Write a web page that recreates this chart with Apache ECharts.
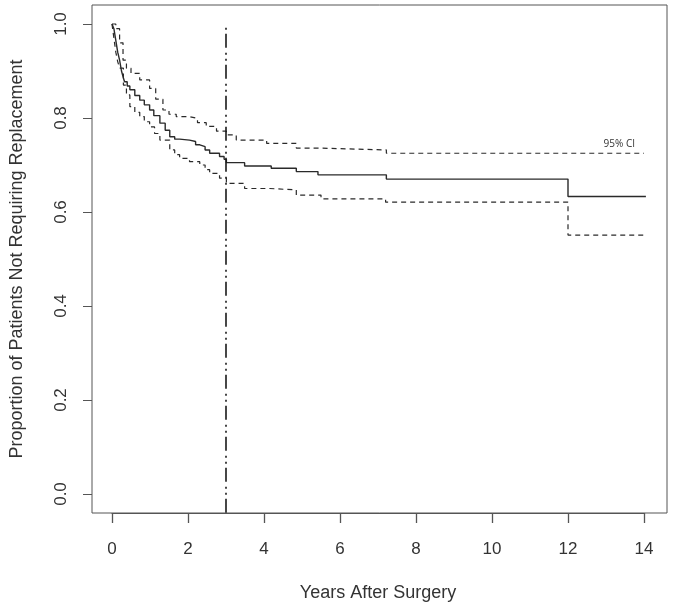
<!DOCTYPE html>
<html>
<head>
<meta charset="utf-8">
<script src="https://cdn.jsdelivr.net/npm/echarts@6/dist/echarts.min.js"></script>
<style>html,body{margin:0;padding:0;background:#fff}#c{width:673px;height:609px}</style>
</head>
<body>
<div id="c"></div>
<script>
// Kaplan-Meier estimate (years, proportion)
var survival = [
  [0,1.0],[0.05,0.99],[0.1,0.965],[0.15,0.94],[0.2,0.923],[0.25,0.90],[0.29,0.888],
  [0.33,0.877],[0.4,0.868],[0.47,0.86],[0.6,0.848],[0.73,0.838],[0.85,0.828],[0.99,0.817],
  [1.1,0.805],[1.26,0.789],[1.4,0.774],[1.52,0.76],[1.65,0.755],[1.78,0.753],[2.04,0.75],
  [2.2,0.743],[2.31,0.739],[2.45,0.732],[2.57,0.725],[2.83,0.718],[2.95,0.712],[3.01,0.705],
  [3.49,0.698],[4.19,0.693],[4.85,0.686],[5.42,0.679],[7.22,0.670],[12.0,0.633],[14.05,0.633]
];
var upperCI = [
  [0,1.0],[0.1,0.99],[0.2,0.96],[0.29,0.923],[0.38,0.906],[0.5,0.895],[0.73,0.881],
  [0.99,0.863],[1.15,0.84],[1.34,0.817],[1.5,0.808],[1.69,0.803],[2.04,0.799],[2.25,0.79],
  [2.48,0.782],[2.75,0.772],[3.01,0.764],[3.27,0.753],[4.07,0.746],[4.85,0.736],[5.42,0.732],
  [7.22,0.725],[14.0,0.725]
];
var lowerCI = [
  [0,1.0],[0.05,0.97],[0.1,0.94],[0.15,0.92],[0.2,0.906],[0.3,0.87],[0.38,0.849],[0.47,0.824],
  [0.6,0.812],[0.73,0.803],[0.85,0.792],[0.99,0.781],[1.12,0.767],[1.26,0.753],[1.52,0.732],
  [1.65,0.722],[1.78,0.714],[2.04,0.707],[2.31,0.700],[2.45,0.69],[2.57,0.682],[2.83,0.672],
  [3.01,0.661],[3.49,0.650],[4.15,0.647],[4.85,0.636],[5.5,0.628],[7.2,0.621],[12.0,0.551],[14.0,0.551]
];
var refLineX = 3;
var refLine = [[refLineX,-0.04],[refLineX,1.0]];
var xTicks = [0,2,4,6,8,10,12,14];
var yTicks = [0,0.2,0.4,0.6,0.8,1.0];
var ciLabel = '95% CI';
var ciLabelPos = [13.35, 0.745];

var chart = echarts.init(document.getElementById('c'));
var font = 'Liberation Sans, Arial, sans-serif';
chart.setOption({
  animation: false,
  backgroundColor: '#fff',
  grid: [
    {left: 112, right: 29, top: 24, bottom: 115, show: false},
    {left: 92, right: 6, top: 5, bottom: 96, show: true, borderColor: '#555', borderWidth: 1, backgroundColor: 'transparent'}
  ],
  xAxis: [{
    type: 'value', gridIndex: 0, min: 0, max: 14, interval: 2, offset: 19,
    name: 'Years After Surgery', nameLocation: 'middle', nameGap: 71,
    nameTextStyle: {fontSize: 18, color: '#333', fontFamily: font},
    axisLine: {show: true, onZero: false, lineStyle: {color: '#555', width: 1}},
    splitLine: {show: false},
    axisTick: {show: true, inside: false, length: 10, lineStyle: {color: '#555', width: 1.3}},
    axisLabel: {fontSize: 17, color: '#333', fontFamily: font, margin: 28}
  }, {
    type: 'value', gridIndex: 1, min: 0, max: 1, show: false
  }],
  yAxis: [{
    type: 'value', gridIndex: 0, min: 0, max: 1, interval: 0.2, offset: 20,
    name: 'Proportion of Patients Not Requiring Replacement', nameLocation: 'middle', nameGap: 66,
    nameTextStyle: {fontSize: 18, color: '#333', fontFamily: font},
    axisLine: {show: false, onZero: false},
    splitLine: {show: false},
    axisTick: {show: true, inside: false, length: 9, lineStyle: {color: '#555', width: 1}},
    axisLabel: {fontSize: 17, color: '#333', fontFamily: font, margin: 22, rotate: 90,
      formatter: function(v){return v.toFixed(1);}}
  }, {
    type: 'value', gridIndex: 1, min: 0, max: 1, show: false
  }],
  series: [
    {type: 'line', data: survival, step: 'end', showSymbol: false, symbol: 'none', clip: false,
      lineStyle: {color: '#2a2a2a', width: 1.4}, z: 3},
    {type: 'line', data: upperCI, step: 'end', showSymbol: false, symbol: 'none', clip: false,
      lineStyle: {color: '#2a2a2a', width: 1.2, type: [5,4]},
      markPoint: {symbol: 'circle', symbolSize: 0, data: [{coord: ciLabelPos, value: ciLabel}],
        label: {show: true, formatter: ciLabel, fontSize: 10, color: '#333', fontFamily: 'Open Sans, sans-serif', position: 'inside'}}},
    {type: 'line', data: lowerCI, step: 'end', showSymbol: false, symbol: 'none', clip: false,
      lineStyle: {color: '#2a2a2a', width: 1.2, type: [5,4]}},
    {type: 'line', data: refLine, showSymbol: false, symbol: 'none', clip: false,
      lineStyle: {color: '#1a1a1a', width: 1.6, type: [14,4,2,4,2,5]}}
  ]
});
</script>
</body>
</html>
